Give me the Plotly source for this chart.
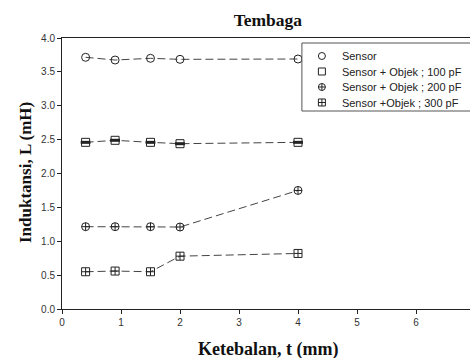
import plotly.graph_objects as go

thickness = [0.4, 0.9, 1.5, 2.0, 4.0]
sensor = [3.715, 3.675, 3.70, 3.685, 3.69]
obj100 = [2.46, 2.49, 2.46, 2.44, 2.46]
obj200 = [1.215, 1.215, 1.215, 1.21, 1.75]
obj300 = [0.55, 0.56, 0.55, 0.78, 0.82]
names = ["Sensor", "Sensor + Objek ; 100 pF", "Sensor + Objek ; 200 pF", "Sensor +Objek ; 300 pF"]
x_ticks = [0, 1, 2, 3, 4, 5, 6]
y_ticks = [0.0, 0.5, 1.0, 1.5, 2.0, 2.5, 3.0, 3.5, 4.0]

series = [sensor, obj100, obj200, obj300]
symbols = ["circle-open", "square-open", "circle-cross-open", "square-cross-open"]

fig = go.Figure()
line_style = dict(color="#444", width=1, dash="8px,4px")
for ys, sym in zip(series, symbols):
    fig.add_trace(go.Scatter(x=thickness, y=ys, mode="lines+markers", showlegend=False,
                             line=line_style,
                             marker=dict(symbol=sym, size=8, color="#222", line=dict(width=1, color="#222"))))
# half-filled look for 100 pF squares
fig.add_trace(go.Scatter(x=thickness, y=obj100, mode="markers", showlegend=False,
                         marker=dict(symbol="line-ew", size=7, line=dict(width=3, color="#222"))))

# legend entries (markers only), one compact legend per row
legend_ids = ["legend", "legend2", "legend3", "legend4"]
row_y = [0.9336, 0.8764, 0.8192, 0.762]
for nm, sym, lid in zip(names, symbols, legend_ids):
    fig.add_trace(go.Scatter(x=[None], y=[None], mode="markers", name=nm, legend=lid,
                             marker=dict(symbol=sym, size=7, color="#222", line=dict(width=1, color="#222"))))

legend_common = dict(xanchor="left", yanchor="middle", borderwidth=0, bgcolor="rgba(0,0,0,0)",
                     font=dict(family="Liberation Sans", size=11, color="#222"), itemwidth=30)
layout_legends = {}
for lid, ry in zip(legend_ids, row_y):
    layout_legends[lid] = dict(x=0.588, y=ry, **legend_common)

fig.update_layout(
    width=470, height=358,
    margin=dict(l=62, r=0, t=38, b=49),
    paper_bgcolor="white", plot_bgcolor="white",
    title=dict(text="<b>Tembaga</b>", x=0.57, xanchor="center", y=0.945, yanchor="middle",
               font=dict(family="Liberation Serif", size=17.5, color="#111")),
    xaxis=dict(range=[0, 6.915], tickvals=x_ticks, ticks="outside", ticklen=4, tickcolor="#222",
               showline=True, linecolor="#222", linewidth=1, mirror=True, showgrid=False, zeroline=False,
               tickfont=dict(family="Liberation Sans", size=10, color="#333")),
    yaxis=dict(range=[0, 4.0], tickvals=y_ticks, tickformat=".1f", ticks="outside", ticklen=4, tickcolor="#222",
               showline=True, linecolor="#222", linewidth=1, showgrid=False, zeroline=False,
               tickfont=dict(family="Liberation Sans", size=10, color="#333")),
    shapes=[dict(type="rect", xref="paper", yref="paper", x0=0.588, x1=1.02, y0=0.7306, y1=0.9815,
                 line=dict(color="#555", width=1), fillcolor="white", layer="above")],
    annotations=[
        dict(text="<b>Ketebalan, t (mm)</b>", xref="paper", yref="paper", x=0.505, y=-0.148,
             xanchor="center", yanchor="middle", showarrow=False,
             font=dict(family="Liberation Serif", size=18, color="#111")),
        dict(text="<b>Induktansi, L (mH)</b>", xref="paper", yref="paper", x=-0.0907, y=0.5055,
             xanchor="center", yanchor="middle", showarrow=False, textangle=-90,
             font=dict(family="Liberation Serif", size=17, color="#111")),
    ],
    **layout_legends,
)

fig.write_html("out.html")
